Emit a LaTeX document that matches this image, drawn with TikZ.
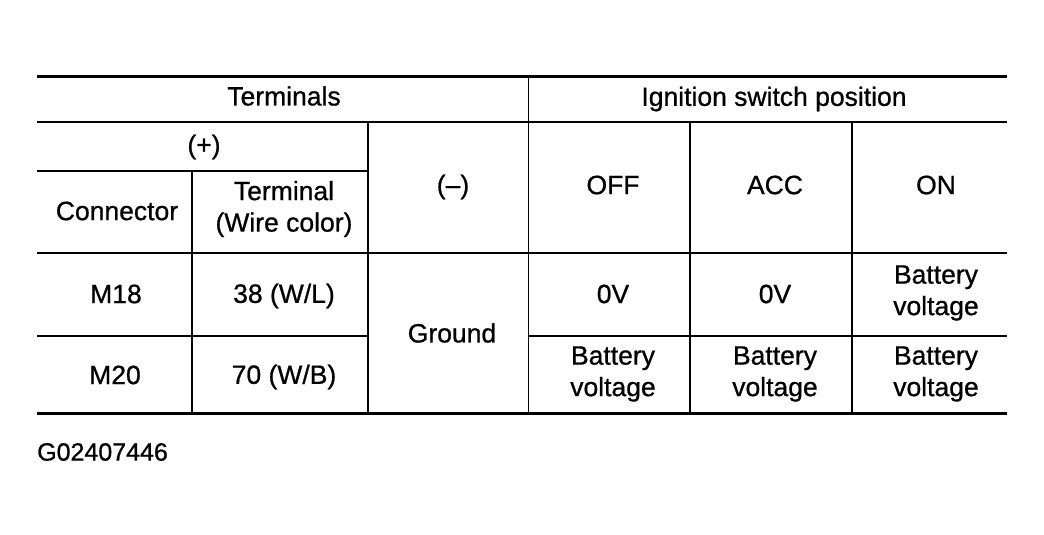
\documentclass[tikz,border=0pt]{standalone}
\usepackage{fontspec}
\setmainfont{Liberation Sans}[RawFeature={embolden=0.8}]
\begin{document}
\begin{tikzpicture}[x=1pt,y=-1pt,
		cell/.style = {align=center, inner sep=0pt, font=\fontsize{26.5}{31.5}\selectfont},
		rule/.style = {line width=1.8pt},
		thin/.style = {line width=1pt},
		heavy/.style = {line width=3pt}]
		\useasboundingbox (0,0) rectangle (1044,535);
		% header
		\node[cell] (term) at (284,96) {Terminals};
		\node[cell] (ign) at (774,99) {Ignition switch position};
		\node[cell] (plus) at (204,147) {(+)};
		\node[cell] (conn) at (117,211) {Connector};
		\node[cell] (wire) at (284,209) {Terminal\\(Wire color)};
		\node[cell] (minus) at (453,187) {(--)};
		\node[cell] (off) at (613,185) {OFF};
		\node[cell] (acc) at (775,185) {ACC};
		\node[cell] (on) at (936,185) {ON};
		% rows
		\node[cell] (m18) at (116,294) {M18};
		\node[cell] (t38) at (284,296) {38 (W/L)};
		\node[cell] (gnd) at (452,333) {Ground};
		\node[cell] (off1) at (613,294) {0V};
		\node[cell] (acc1) at (775,294) {0V};
		\node[cell] (on1) at (936,293) {Battery\\voltage};
		\node[cell] (m20) at (115,375) {M20};
		\node[cell] (t70) at (284,377) {70 (W/B)};
		\node[cell] (off2) at (613,374) {Battery\\voltage};
		\node[cell] (acc2) at (775,374) {Battery\\voltage};
		\node[cell] (on2) at (936,374) {Battery\\voltage};
		\node[cell, anchor=west, font=\fontsize{25}{30}\selectfont] (code) at (37,452) {G02407446};
		% lines
		\draw[heavy] (37,77) -- (1007,77);
		\draw[rule] (37,122) -- (1007,122);
		\draw[rule] (37,171) -- (368,171);
		\draw[rule] (37,253) -- (1007,253);
		\draw[rule] (37,336) -- (368,336);
		\draw[rule] (528,336) -- (1007,336);
		\draw[heavy] (37,413) -- (1007,413);
		\draw[rule] (192,171) -- (192,413);
		\draw[rule] (368,122) -- (368,413);
		\draw[thin] (528,77) -- (528,413);
		\draw[rule] (690,122) -- (690,413);
		\draw[rule] (852,122) -- (852,413);
\end{tikzpicture}
\end{document}
